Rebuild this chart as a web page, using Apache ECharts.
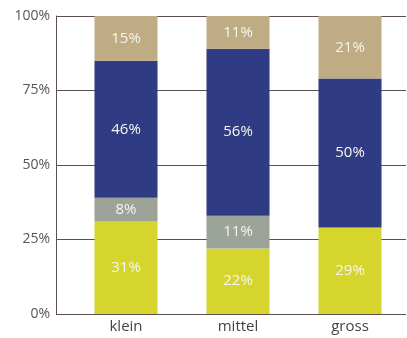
<!DOCTYPE html>
<html><head><meta charset="utf-8">
<script src="https://cdn.jsdelivr.net/npm/echarts@6/dist/echarts.min.js"></script>
<style>html,body{margin:0;padding:0;background:#fff}#c{width:407px;height:338px}</style>
</head><body><div id="c"></div>
<script>
const categories = ['klein', 'mittel', 'gross'];
const yellowVals = [31, 22, 29];
const grayVals = [8, 11, 0];
const navyVals = [46, 56, 50];
const tanVals = [15, 11, 21];
const yTicks = [0, 25, 50, 75, 100];

const chart = echarts.init(document.getElementById('c'), null, {renderer: 'canvas'});
const lbl = {show: true, position: 'inside', color: '#f6f6ee', fontSize: 15, fontFamily: 'Open Sans',
  formatter: p => p.value > 0 ? p.value + '%' : ''};
function ser(name, data, color) {
  return {name, type: 'bar', stack: 's', xAxisIndex: 1, yAxisIndex: 1, data, barWidth: 63,
    itemStyle: {color}, label: lbl};
}
chart.setOption({
  animation: false,
  grid: [
    {left: 56, right: 1, top: 16, bottom: 24},
    {left: 70, right: 1, top: 16, bottom: 24}
  ],
  xAxis: [
    {gridIndex: 0, type: 'category', data: categories, axisLine: {show: false}, axisTick: {show: false}, axisLabel: {show: false}},
    {gridIndex: 1, type: 'category', data: categories, axisLine: {show: false}, axisTick: {show: false},
      axisLabel: {color: '#444', fontSize: 15, fontFamily: 'Open Sans', margin: 5}}
  ],
  yAxis: [
    {gridIndex: 0, type: 'value', min: 0, max: 100, interval: 25,
      axisLine: {show: true, lineStyle: {color: '#5e504c', width: 1}}, axisTick: {show: false},
      splitLine: {show: true, lineStyle: {color: '#5e504c', width: 1}},
      axisLabel: {color: '#555', fontSize: 14, fontFamily: 'Open Sans', margin: 6,
        formatter: v => yTicks.includes(v) ? v + '%' : ''}},
    {gridIndex: 1, type: 'value', min: 0, max: 100, interval: 25, show: false}
  ],
  series: [
    ser('gelb', yellowVals, '#d6d52e'),
    ser('grau', grayVals, '#9ca399'),
    ser('blau', navyVals, '#2f3b82'),
    ser('beige', tanVals, '#bfac84')
  ]
});
</script></body></html>
